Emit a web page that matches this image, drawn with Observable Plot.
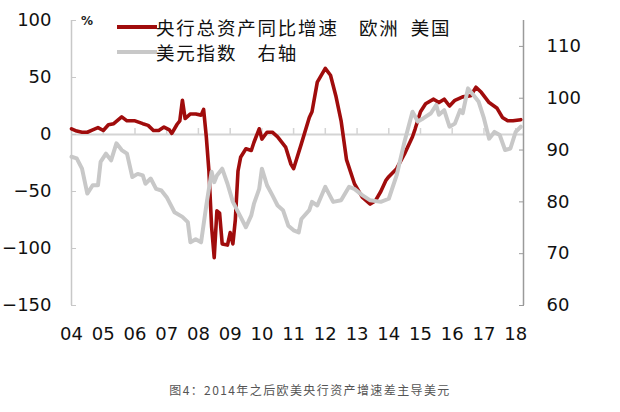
<!DOCTYPE html>
<html><head><meta charset="utf-8">
<script src="https://cdn.jsdelivr.net/npm/d3@7"></script>
<script src="https://cdn.jsdelivr.net/npm/@observablehq/plot@0.6"></script>
<style>
body{margin:0;background:#fff;}
#wrap{position:relative;width:620px;height:412px;overflow:hidden;background:#fff;}
.lg{position:absolute;font-family:"Noto Sans CJK SC",sans-serif;font-size:18.5px;letter-spacing:1.8px;line-height:20px;color:#111;white-space:pre;}
.sw{position:absolute;height:4px;width:40px;}
#unit{position:absolute;left:81px;top:14px;font-family:"DejaVu Sans",sans-serif;font-size:12px;font-weight:bold;color:#222;}
#cap{position:absolute;left:0;top:380px;width:620px;text-align:center;font-family:"Noto Sans CJK SC",sans-serif;font-size:12px;letter-spacing:1.4px;line-height:20px;color:#555;}
</style></head><body><div id="wrap"></div>
<script>
const redDates = ["2004-01","2004-03","2004-05","2004-07","2004-09","2004-11","2005-01","2005-03","2005-05","2005-08","2005-10","2006-01","2006-04","2006-06","2006-08","2006-10","2006-12","2007-02","2007-03","2007-05","2007-06","2007-07","2007-08","2007-10","2007-12","2008-02","2008-03","2008-04","2008-05","2008-06","2008-07","2008-08","2008-09","2008-10","2008-12","2009-01","2009-02","2009-03","2009-04","2009-05","2009-07","2009-09","2009-10","2009-12","2010-01","2010-03","2010-05","2010-07","2010-10","2010-12","2011-01","2011-04","2011-07","2011-08","2011-10","2012-01","2012-03","2012-05","2012-07","2012-09","2012-12","2013-03","2013-06","2013-08","2013-10","2013-12","2014-01","2014-04","2014-07","2014-10","2014-11","2015-01","2015-03","2015-06","2015-08","2015-10","2015-12","2016-02","2016-05","2016-08","2016-10","2016-12","2017-03","2017-06","2017-08","2017-10","2017-12","2018-03"];
const redValues = [5,3,2,2,4,6,3.5,8.5,9.5,15.5,12,12,9.5,8,3.5,3.5,6.5,4,1,9,12,30,14,18,18,17,22,-2,-32,-81,-108,-67,-69,-96,-97,-86,-96,-75,-32,-20,-12.5,-14,-7,5,-4,2,2,-2,-11,-26,-30,-8,15,20,46,58,52,34,12,-22,-43,-55,-61,-58,-50,-40,-37,-30,-17,-2,5,20,27,31,28,31,25,30,33,34,41.5,37,28,23,15,12,12,13];
const grayDates = ["2004-01","2004-03","2004-05","2004-07","2004-09","2004-11","2004-12","2005-02","2005-04","2005-06","2005-08","2005-10","2005-12","2006-02","2006-04","2006-05","2006-07","2006-09","2006-11","2007-01","2007-04","2007-07","2007-09","2007-10","2007-12","2008-02","2008-04","2008-06","2008-07","2008-08","2008-10","2008-12","2009-02","2009-05","2009-07","2009-09","2009-10","2009-12","2010-01","2010-03","2010-05","2010-07","2010-09","2010-11","2011-01","2011-03","2011-04","2011-07","2011-08","2011-10","2012-01","2012-04","2012-07","2012-10","2012-12","2013-03","2013-06","2013-10","2014-01","2014-04","2014-07","2014-10","2014-12","2015-02","2015-05","2015-07","2015-08","2015-10","2015-12","2016-02","2016-04","2016-05","2016-07","2016-09","2016-11","2017-01","2017-03","2017-05","2017-07","2017-09","2017-11","2018-01","2018-03"];
const grayValues = [88.7,88.4,86.4,81.6,83.2,83.2,87.7,89.3,88.0,91.3,90.0,89.3,84.8,85.4,85.1,83.5,84.5,82.5,82.2,80.9,78.0,77.1,76.1,72.2,72.8,72.2,79.3,85.8,83.8,85.1,86.4,83.5,80.0,77.1,75.1,77.4,79.6,82.5,86.4,83.2,81.3,79.3,78.4,75.4,74.5,74.1,76.7,78.4,80.0,79.3,82.9,80.0,80.3,82.9,82.5,81.3,80.3,80.0,80.6,85.1,91.6,97.4,95.5,96.1,97.1,98.7,96.8,97.7,94.5,95.1,97.7,97.1,101.9,100.6,99.3,96.1,92.2,93.5,92.9,90.0,90.3,93.5,94.5];
const yearTicks = ["2004","2005","2006","2007","2008","2009","2010","2011","2012","2013","2014","2015","2016","2017","2018"];
const xDomain = ["2004-01","2018-04"];
const leftTicks = [-150,-100,-50,0,50,100];
const leftDomain = [-150,100];
const rightTicks = [60,70,80,90,100,110];
const rightDomain = [60,115];
const legendLabels = ["央行总资产同比增速\u3000欧洲\u2002美国","美元指数\u3000右轴"];
const legendColors = ["#a00c0c","#c8c8c8"];
const unitLabel = "%";
const captionText = "图4：2014年之后欧美央行资产增速差主导美元";

const parse = d3.utcParse("%Y-%m");
const parseY = d3.utcParse("%Y");
const toLeft = v => leftDomain[0] + (v - rightDomain[0]) * (leftDomain[1]-leftDomain[0])/(rightDomain[1]-rightDomain[0]);
const fromLeft = v => rightDomain[0] + (v - leftDomain[0]) * (rightDomain[1]-rightDomain[0])/(leftDomain[1]-leftDomain[0]);
const red = redDates.map((d,i)=>({date:parse(d), v:redValues[i]}));
const gray = grayDates.map((d,i)=>({date:parse(d), v:toLeft(grayValues[i])}));
const years = yearTicks.map(parseY);
const xd = xDomain.map(parse);

const chart = Plot.plot({
  width: 620, height: 350,
  marginLeft: 71, marginRight: 97, marginTop: 20, marginBottom: 45,
  style: {fontFamily: "DejaVu Sans, sans-serif", fontSize: "18px", color: "#111", background: "#fff"},
  x: {type: "utc", domain: xd, label: null},
  y: {domain: leftDomain, label: null},
  marks: [
    Plot.ruleY([0], {stroke: "#d4d4d4", strokeWidth: 2}),
    Plot.ruleX(years.slice(1), {x: d=>d, y1: 0, y2: 0, insetTop: -6, stroke: "#d4d4d4", strokeWidth: 1.5}),
    Plot.ruleX([xd[0]], {stroke: "#c8c8c8", strokeWidth: 1.5}),
    Plot.ruleX([xd[1]], {stroke: "#9a9a9a", strokeWidth: 1.5}),
    Plot.axisY({anchor: "left", ticks: leftTicks, tickSize: 5, dx: 5, text: null, label: null, stroke: "#c8c8c8"}),
    Plot.axisY({anchor: "left", ticks: leftTicks, tickSize: 0, tickPadding: 20, fontSize: 18, label: null}),
    Plot.axisY({anchor: "right", ticks: rightTicks.map(toLeft), tickSize: 5, dx: -5, text: null, label: null, stroke: "#9a9a9a"}),
    Plot.axisY({anchor: "right", ticks: rightTicks.map(toLeft), tickSize: 0, tickPadding: 23, fontSize: 18, label: null, tickFormat: d => String(Math.round(fromLeft(d)))}),
    Plot.axisX({anchor: "bottom", ticks: years, tickSize: 0, tickPadding: 22, fontSize: 18, label: null, tickFormat: d3.utcFormat("%y")}),
    Plot.line(red, {x: "date", y: "v", stroke: legendColors[0], strokeWidth: 3.6, strokeLinejoin: "round"}),
    Plot.line(gray, {x: "date", y: "v", stroke: legendColors[1], strokeWidth: 4, strokeLinejoin: "round"})
  ]
});

const wrap = document.getElementById("wrap");
chart.style.position = "absolute"; chart.style.left = "0"; chart.style.top = "0";
wrap.appendChild(chart);

const unit = document.createElement("div"); unit.id = "unit"; unit.textContent = unitLabel; wrap.appendChild(unit);
const swTops = [25, 50];
const txtTops = [17, 42];
legendLabels.forEach((t,i)=>{
  const sw = document.createElement("div"); sw.className = "sw";
  sw.style.left = "117px"; sw.style.top = swTops[i] + "px"; sw.style.background = legendColors[i];
  wrap.appendChild(sw);
  const tx = document.createElement("div"); tx.className = "lg";
  tx.style.left = "156px"; tx.style.top = txtTops[i] + "px"; tx.textContent = t;
  wrap.appendChild(tx);
});
const cap = document.createElement("div"); cap.id = "cap"; cap.textContent = captionText; wrap.appendChild(cap);
</script></body></html>
